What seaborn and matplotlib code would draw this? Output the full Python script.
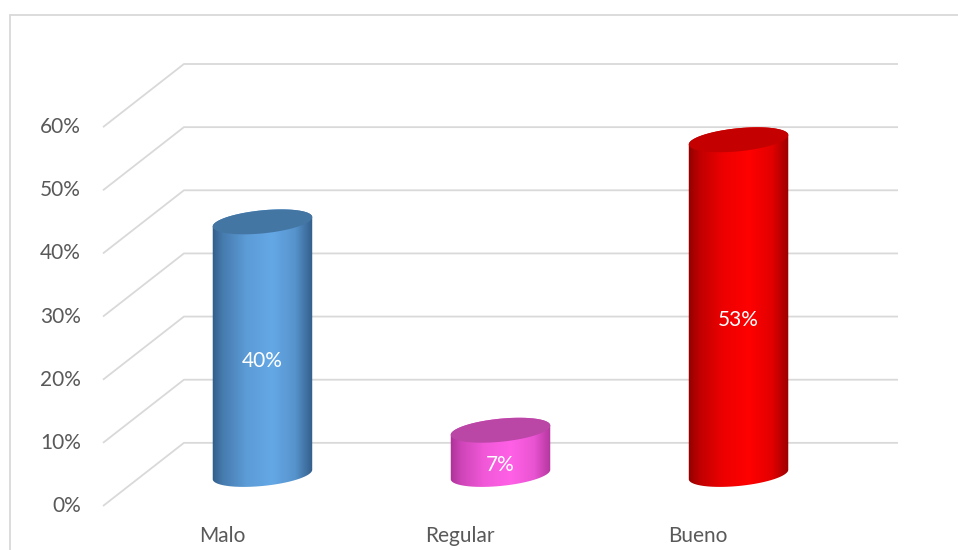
import numpy as np
import pandas as pd
import matplotlib
matplotlib.use("Agg")
import matplotlib.pyplot as plt
import seaborn as sns
from matplotlib.patches import Polygon
from matplotlib.lines import Line2D

# ---- data ----
categories = ["Malo", "Regular", "Bueno"]
values = [0.40, 0.07, 0.53]
value_labels = ["40%", "7%", "53%"]
yticks = [0.0, 0.1, 0.2, 0.3, 0.4, 0.5, 0.6]
ytick_labels = ["0%", "10%", "20%", "30%", "40%", "50%", "60%"]

# ---- styles ----
dark_cols = [(46, 86, 128), (168, 48, 148), (140, 0, 0)]
light_cols = [(100, 168, 230), (255, 96, 230), (255, 0, 0)]
top_cols = [(68, 118, 164), (186, 70, 166), (196, 0, 0)]
text_col = "#595959"
grid_col = "#D9D9D9"

sns.set_theme(style="white")
plt.rcParams["font.family"] = ["Lato", "DejaVu Sans"]

W, H = 958, 550
fig = plt.figure(figsize=(W / 100, H / 100), dpi=100)
DX, DY = 0.17, 0.05  # depth offset (category units, value units)
ax = fig.add_axes([103 / W, 44 / H, (898 - 103) / W, (506 - 64) / H])

df = pd.DataFrame({"cat": categories, "val": values})
sns.barplot(data=df, x="cat", y="val", ax=ax, width=0.42, color="white")
x0, x1 = -0.5 - DX, 2.5 + DX
y0, y1 = -DY, 0.6 + DY
ax.set_xlim(x0, x1)
ax.set_ylim(y0, y1)
ax.axis("off")

ux = (x1 - x0) / (898 - 103)   # data units per px (x)
uy = (y1 - y0) / (506 - 64)    # data units per px (y)

# gridlines (3D walls)
for v in yticks:
    ax.plot([x0, -0.5 + DX, x1], [v - DY, v + DY, v + DY], color=grid_col,
            lw=1.3, zorder=1, clip_on=False, solid_capstyle="butt")

# tick labels (front plane)
for v, lab in zip(yticks, ytick_labels):
    ax.text(x0 - 22 * ux, v - DY, lab, ha="right", va="center",
            fontsize=15, color=text_col, clip_on=False)

# category labels
for i, cat in enumerate(categories):
    ax.text(i - DX, y0 - 30 * uy, cat, ha="center", va="center",
            fontsize=15, color=text_col, clip_on=False)


def ellipse_pts(cx, cy, a, b, theta, phis):
    u = a * np.cos(phis) * np.cos(theta) - b * np.sin(phis) * np.sin(theta)
    w = a * np.cos(phis) * np.sin(theta) + b * np.sin(phis) * np.cos(theta)
    return np.column_stack([cx + u * ux, cy + w * uy])


theta = np.deg2rad(5.7)
b_px = 11.5
patches = list(ax.patches)
for i, p in enumerate(patches):
    p.set_visible(False)
    cx = p.get_x() + p.get_width() / 2
    hgt = p.get_height()
    a_px = p.get_width() / 2 / ux
    lower = ellipse_pts(cx, 0.0, a_px, b_px, theta, np.linspace(np.pi, 2 * np.pi, 80))
    upper = ellipse_pts(cx, hgt, a_px, b_px, theta, np.linspace(0, np.pi, 80))
    body = Polygon(np.vstack([lower, upper]), closed=True, facecolor="none",
                   edgecolor="none", zorder=3)
    ax.add_patch(body)
    # horizontal cylinder shading
    t = np.linspace(0, 1, 200)
    mix = np.interp(t, [0, 0.12, 0.35, 0.6, 0.82, 0.95, 1.0],
                    [0.0, 0.45, 0.85, 1.0, 0.75, 0.25, 0.05])
    dk = np.array(dark_cols[i]) / 255
    lt = np.array(light_cols[i]) / 255
    grad = dk[None, :] * (1 - mix[:, None]) + lt[None, :] * mix[:, None]
    img = ax.imshow(grad[None, :, :], extent=[cx - p.get_width() / 2 - 2 * ux,
                                              cx + p.get_width() / 2 + 2 * ux,
                                              -30 * uy, hgt + 30 * uy],
                    aspect="auto", interpolation="bilinear", zorder=3)
    img.set_clip_path(body)
    top = Polygon(ellipse_pts(cx, hgt, a_px, b_px, theta, np.linspace(0, 2 * np.pi, 160)),
                  closed=True, facecolor=np.array(top_cols[i]) / 255,
                  edgecolor="none", zorder=4)
    ax.add_patch(top)
    ax.text(cx, hgt / 2 - 0.02, value_labels[i], ha="center", va="center",
            fontsize=15, color="white", zorder=5)

ax.set_xlim(x0, x1)
ax.set_ylim(y0, y1)

# chart border
fig.add_artist(Line2D([10 / W, 10 / W], [0, 1 - 15 / H], color=grid_col, lw=1.3))
fig.add_artist(Line2D([10 / W, 1], [1 - 15 / H, 1 - 15 / H], color=grid_col, lw=1.3))

fig.savefig("out.png", dpi=100, facecolor="white")
